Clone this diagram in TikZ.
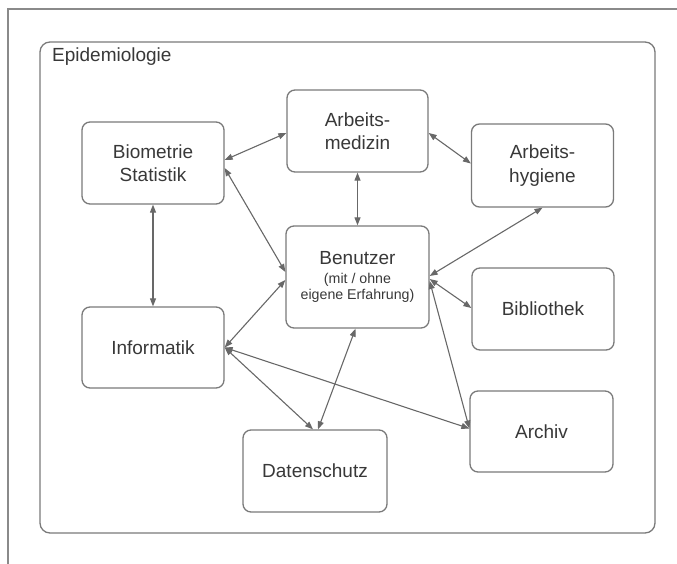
\documentclass[tikz,border=0pt]{standalone}
\usepackage{fontspec}
\setmainfont{Liberation Sans}
\usetikzlibrary{arrows.meta}
\definecolor{boxline}{HTML}{7A7A7A}
\definecolor{txt}{HTML}{383838}
\definecolor{arrowgray}{HTML}{686868}
\definecolor{framegray}{HTML}{8A8A8A}
\newcommand\notefont{\fontsize{14.2}{16}\selectfont}
\begin{document}
\begin{tikzpicture}[x=1pt,y=-1pt,
  box/.style={draw=boxline, line width=1.3pt, rounded corners=8pt,
    minimum width=142pt, minimum height=82pt, align=center, text=txt,
    font=\fontsize{19}{23.5}\selectfont, inner sep=0pt},
  link/.style={draw=arrowgray, line width=1.1pt,
    {Triangle[length=8pt,width=6pt]}-{Triangle[length=8pt,width=6pt]}}]
\useasboundingbox (0,0) rectangle (677,564);

% cropped outer frame
\draw[framegray, line width=1.2pt] (8,564) -- (8,9) -- (677,9);

% enclosing field
\node[draw=boxline, line width=1.3pt, rounded corners=10pt, minimum width=615pt,
  minimum height=491pt, inner sep=0pt] (epi) at (347.5,287.5) {};
\node[anchor=base west, inner sep=0pt, text=txt, font=\fontsize{19}{23.5}\selectfont]
  (epititle) at (52,62) {Epidemiologie};

% boxes
\node[box, minimum width=141pt] (am) at (357.5,131) {Arbeits-\\medizin};
\node[box] (bio) at (153,163) {Biometrie\\Statistik};
\node[box, minimum height=83pt] (ah) at (542.5,165.5) {Arbeits-\\hygiene};
\node[box, minimum width=143pt, minimum height=102pt] (ben) at (357.5,277)
  {Benutzer\\[-4.5pt]{\notefont (mit / ohne}\\[-7.5pt]{\notefont eigene Erfahrung)}};
\node[box] (bib) at (543,309) {Bibliothek};
\node[box, minimum height=81pt] (inf) at (153,347.5) {Informatik};
\node[box, minimum width=143pt, minimum height=81pt] (arc) at (541.5,431.5) {Archiv};
\node[box, minimum width=144pt] (dat) at (315,471) {Datenschutz};

% connectors
\draw[link] ([yshift=3pt]bio.east) -- ([yshift=-2pt]am.west);
\draw[link] ([yshift=-2pt]am.east) -- ([yshift=2pt]ah.west);
\draw[link] (am.south) -- (ben.north);
\draw[link] ([yshift=-5pt]bio.east) -- ([yshift=5pt]ben.west);
\draw[link] (bio.south) -- (inf.north);
\draw[link] (inf.east) -- ([yshift=-3pt]ben.west);
\draw[link] ([yshift=1pt]ben.east) -- (ah.south);
\draw[link] ([yshift=-2pt]ben.east) -- ([yshift=1pt]bib.west);
\draw[link] ([yshift=-4pt]ben.east) -- ([yshift=3pt]arc.west);
\draw[link] (inf.east) -- ([yshift=3pt]arc.west);
\draw[link] (inf.east) -- ([xshift=-2pt]dat.north);
\draw[link] ([xshift=-2pt]ben.south) -- ([xshift=3pt]dat.north);
\end{tikzpicture}
\end{document}
